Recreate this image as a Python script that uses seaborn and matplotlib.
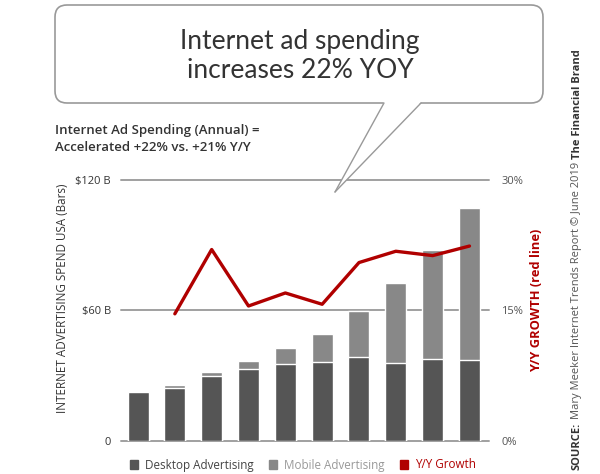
import numpy as np
import pandas as pd
import matplotlib
matplotlib.use("Agg")
import matplotlib.pyplot as plt
import seaborn as sns
from matplotlib.patches import FancyBboxPatch, Polygon, Patch
from matplotlib.lines import Line2D
from matplotlib.transforms import IdentityTransform

# --- dados ---
years = ["2009", "2010", "2011", "2012", "2013", "2014", "2015", "2016", "2017", "2018"]
desktop = [22.6, 24.4, 29.8, 33.0, 35.4, 36.2, 38.5, 35.6, 37.4, 37.3]
mobile = [0.0, 1.4, 1.8, 3.5, 7.2, 13.1, 21.3, 36.8, 50.2, 69.7]
growth_years = years[1:]
growth = [14.6, 22.0, 15.5, 17.0, 15.7, 20.5, 21.8, 21.3, 22.4]

left_ticks = [0, 60, 120]
left_labels = ["0", "$60 B", "$120 B"]
right_ticks = [0, 15, 30]
right_labels = ["0%", "15%", "30%"]

C_DESK = "#555555"
C_MOB = "#888888"
C_RED = "#b00000"
C_GRID = "#a0a0a0"
C_TXT = "#333333"

W, H = 600, 474

sns.set_style("white")
plt.rcParams["font.family"] = ["Open Sans", "DejaVu Sans"]

df = pd.DataFrame({"year": years, "desktop": desktop, "mobile": mobile})
df["total"] = df["desktop"] + df["mobile"]
gdf = pd.DataFrame({"pos": [years.index(y) for y in growth_years], "growth": growth})

fig = plt.figure(figsize=(W / 100, H / 100), dpi=100)
ax = fig.add_axes([120.7 / W, 1 - 440.7 / H, (489 - 120.7) / W, (440.7 - 180) / H])

sns.barplot(data=df, x="year", y="total", color=C_MOB, width=0.57, saturation=1, ax=ax, zorder=2)
sns.barplot(data=df, x="year", y="desktop", color=C_DESK, width=0.57, saturation=1, ax=ax, zorder=3)

ax.set_xlim(-0.47, 9.53)
ax.set_ylim(0, 120)
for t in left_ticks:
    ax.axhline(t, color=C_GRID, lw=1.4, zorder=1, clip_on=False)
ax.set_yticks(left_ticks)
ax.set_yticklabels(left_labels, fontsize=8, color=C_TXT)
ax.tick_params(axis="y", length=0, pad=7)
ax.set_xticks([])
ax.set_xlabel("")
ax.set_ylabel("")
sns.despine(ax=ax, left=True, bottom=True)

ax2 = ax.twinx()
sns.lineplot(data=gdf, x="pos", y="growth", color=C_RED, lw=2.4, ax=ax2, zorder=4)
ax2.set_ylim(0, 30)
ax2.set_yticks(right_ticks)
ax2.set_yticklabels(right_labels, fontsize=8, color="#555555")
ax2.tick_params(axis="y", length=0, pad=9)
ax2.set_ylabel("")
sns.despine(ax=ax2, left=True, bottom=True, right=True)

# rótulos dos eixos
fig.text(63 / W, 1 - 298 / H, "INTERNET ADVERTISING SPEND USA (Bars)", rotation=90,
         ha="center", va="center", fontsize=8.4, color=C_TXT)
fig.text(537 / W, 1 - 300 / H, "Y/Y GROWTH (red line)", rotation=90,
         ha="center", va="center", fontsize=9.3, color=C_RED, fontweight="bold")

# subtítulo
fig.text(55 / W, 1 - 139 / H, "Internet Ad Spending (Annual) =\nAccelerated +22% vs. +21% Y/Y",
         ha="left", va="center", fontsize=9.5, color=C_TXT, fontweight="semibold", linespacing=1.35)

# balão de fala (coordenadas em pixels)
def px(x, y):
    return (x, H - y)

bx0, by0, bx1, by1 = 55, 5, 543, 103
bubble = FancyBboxPatch(px(bx0, by1), bx1 - bx0, by1 - by0,
                        boxstyle="round,pad=0,rounding_size=12",
                        transform=IdentityTransform(), facecolor="white",
                        edgecolor="#999999", lw=1.2, zorder=5)
fig.add_artist(bubble)
tail = Polygon([px(384, 102), px(421, 102), px(335, 192)], closed=True,
               transform=IdentityTransform(), facecolor="white", edgecolor="none", zorder=6)
fig.add_artist(tail)
for xa in (384, 421):
    fig.add_artist(Line2D([px(xa, 103)[0], px(335, 192)[0]], [px(xa, 103)[1], px(335, 192)[1]],
                          transform=IdentityTransform(), color="#999999", lw=1.0, zorder=7))
fig.text(300 / W, 1 - 56 / H, "Internet ad spending\nincreases 22% YOY", ha="center", va="center",
         fontsize=19, color=C_TXT, fontweight="normal", family=["Lato", "DejaVu Sans"],
         linespacing=1.2, zorder=8)

# legenda
handles = [Patch(color=C_DESK), Patch(color=C_MOB), Patch(color=C_RED)]
fig.legend(handles, ["Desktop Advertising", "Mobile Advertising", "Y/Y Growth"],
           loc="center", bbox_to_anchor=(303 / W, 1 - 465 / H), ncol=3, frameon=False,
           fontsize=8.4, labelcolor=["#444444", "#999999", C_RED],
           handlelength=0.7, handleheight=0.7, handletextpad=0.6, columnspacing=1.3)

# fonte (texto vertical em partes)
fig.canvas.draw()
renderer = fig.canvas.get_renderer()
pieces = [("SOURCE:", "bold", "#333333"),
          ("Mary Meeker Internet Trends Report \u00a9 June 2019", "normal", "#555555"),
          ("The Financial Brand", "bold", "#333333")]
y = 470
for txt, wt, col in pieces:
    t = fig.text(577 / W, 1 - y / H, txt, rotation=90, rotation_mode="anchor",
                 ha="left", va="center", fontsize=8.0, fontweight=wt, color=col)
    bb = t.get_window_extent(renderer)
    y -= bb.height + 3.5

fig.savefig("out.png", dpi=100)
